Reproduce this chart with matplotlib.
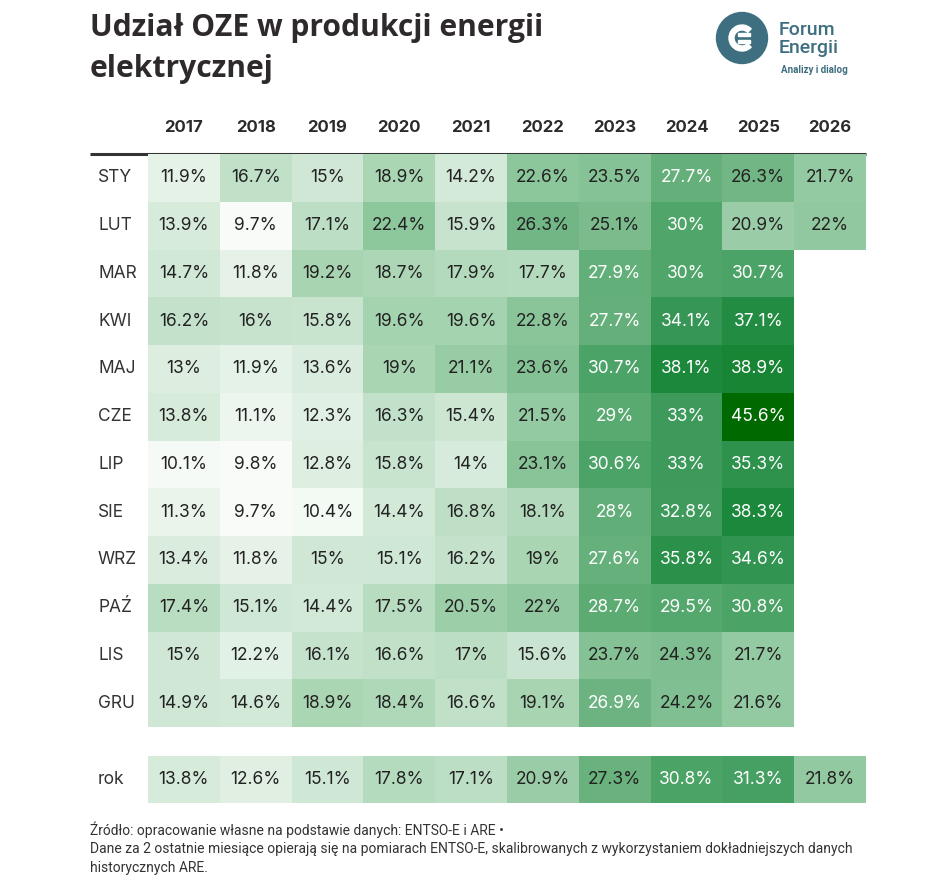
import numpy as np
import matplotlib
matplotlib.use("Agg")
import matplotlib.pyplot as plt
from matplotlib.colors import LinearSegmentedColormap, Normalize
from matplotlib.patches import Circle, Wedge, Rectangle

# data
years = ["2017", "2018", "2019", "2020", "2021", "2022", "2023", "2024", "2025", "2026"]
months = ["STY", "LUT", "MAR", "KWI", "MAJ", "CZE", "LIP", "SIE", "WRZ", "PAŹ", "LIS", "GRU"]
nan = np.nan
sty = [11.9, 16.7, 15.0, 18.9, 14.2, 22.6, 23.5, 27.7, 26.3, 21.7]
lut = [13.9, 9.7, 17.1, 22.4, 15.9, 26.3, 25.1, 30.0, 20.9, 22.0]
mar = [14.7, 11.8, 19.2, 18.7, 17.9, 17.7, 27.9, 30.0, 30.7, nan]
kwi = [16.2, 16.0, 15.8, 19.6, 19.6, 22.8, 27.7, 34.1, 37.1, nan]
maj = [13.0, 11.9, 13.6, 19.0, 21.1, 23.6, 30.7, 38.1, 38.9, nan]
cze = [13.8, 11.1, 12.3, 16.3, 15.4, 21.5, 29.0, 33.0, 45.6, nan]
lip = [10.1, 9.8, 12.8, 15.8, 14.0, 23.1, 30.6, 33.0, 35.3, nan]
sie = [11.3, 9.7, 10.4, 14.4, 16.8, 18.1, 28.0, 32.8, 38.3, nan]
wrz = [13.4, 11.8, 15.0, 15.1, 16.2, 19.0, 27.6, 35.8, 34.6, nan]
paz = [17.4, 15.1, 14.4, 17.5, 20.5, 22.0, 28.7, 29.5, 30.8, nan]
lis = [15.0, 12.2, 16.1, 16.6, 17.0, 15.6, 23.7, 24.3, 21.7, nan]
gru = [14.9, 14.6, 18.9, 18.4, 16.6, 19.1, 26.9, 24.2, 21.6, nan]
rok = [13.8, 12.6, 15.1, 17.8, 17.1, 20.9, 27.3, 30.8, 31.3, 21.8]

monthly = np.array([sty, lut, mar, kwi, maj, cze, lip, sie, wrz, paz, lis, gru])
annual = np.array([rok])

W, H = 947, 891
fig = plt.figure(figsize=(W / 100, H / 100), dpi=100)
fig.patch.set_facecolor("white")

vmin, vmax = 9.7, 45.6
stops = [(9.7, "#f8fbf8"), (12, "#e3f1e5"), (15, "#cfe7d5"), (19, "#a9d5b3"),
         (22.5, "#8cc69b"), (26.3, "#72b685"), (28, "#62ae78"), (30, "#50a66a"),
         (33, "#3d9a5b"), (38, "#1c893d"), (45.6, "#006900")]
cmap = LinearSegmentedColormap.from_list(
    "oze", [((v - vmin) / (vmax - vmin), c) for v, c in stops])
norm = Normalize(vmin, vmax)

cell_font = "Inter"
dark = "#222222"


def px_axes(left, top, right, bottom):
    return fig.add_axes([left / W, 1 - bottom / H, (right - left) / W, (bottom - top) / H])


def fmt(v):
    s = f"{v:.1f}"
    if s.endswith(".0"):
        s = s[:-2]
    return s + "%"


def draw_grid(ax, data, white_from):
    m = np.ma.masked_invalid(data)
    ax.pcolormesh(m, cmap=cmap, norm=norm, edgecolors="none")
    ax.set_xlim(0, data.shape[1])
    ax.set_ylim(data.shape[0], 0)
    ax.axis("off")
    for r in range(data.shape[0]):
        for c in range(data.shape[1]):
            v = data[r, c]
            if np.isnan(v):
                continue
            col = "white" if v >= white_from else dark
            ax.text(c + 0.5, r + 0.5, fmt(v), ha="center", va="center",
                    fontsize=12.5, color=col, family=cell_font)


gl, gr = 148, 866
ax_m = px_axes(gl, 154, gr, 727)
draw_grid(ax_m, monthly, 26.5)
ax_r = px_axes(gl, 756, gr, 803)
draw_grid(ax_r, annual, 28.0)

# overlay axes for text and decorations in pixel coordinates
ov = fig.add_axes([0, 0, 1, 1], zorder=-1)
ov.set_xlim(0, W)
ov.set_ylim(H, 0)
ov.axis("off")

col_w = (gr - gl) / len(years)
for i, y in enumerate(years):
    ov.text(gl + col_w * (i + 0.5), 128, y, ha="center", va="center",
            fontsize=12, fontweight="bold", color="#2b2b2b", family=cell_font)
ov.plot([90, gr], [154, 154], color="#333333", lw=2.2, solid_capstyle="butt")

row_h = (727 - 154) / len(months)
for i, m in enumerate(months):
    ov.text(98, 154 + row_h * (i + 0.5), m, ha="left", va="center",
            fontsize=12.5, color="#333333", family=cell_font)
ov.text(98, 779.5, "rok", ha="left", va="center", fontsize=12.5,
        color="#333333", family=cell_font)

# title
ov.text(90, 28, "Udział OZE w produkcji energii", ha="left", va="center",
        fontsize=21.6, fontweight="bold", color="#2e2a2b", family="Open Sans")
ov.text(90, 69, "elektrycznej", ha="left", va="center",
        fontsize=21.6, fontweight="bold", color="#2e2a2b", family="Open Sans")

# logo
teal = "#3e6f80"
ov.add_patch(Circle((742, 38), 25.5, color=teal))
ov.add_patch(Wedge((742, 38), 13, 45, 315, width=5, color="white"))
for dy in (-3.5, 3.5):
    ov.add_patch(Rectangle((738, 38 + dy - 1.5), 12, 3, color="white"))
ov.text(779, 30, "Forum", ha="left", va="center", fontsize=14, color=teal,
        fontweight="medium", family="Roboto")
ov.text(779, 48, "Energii", ha="left", va="center", fontsize=14, color=teal,
        fontweight="medium", family="Roboto")
ov.text(781, 70, "Analizy i dialog", ha="left", va="center", fontsize=7,
        color=teal, fontweight="bold", family="Roboto")

# footer
foot = ["Źródło: opracowanie własne na podstawie danych: ENTSO-E i ARE •",
        "Dane za 2 ostatnie miesiące opierają się na pomiarach ENTSO-E, skalibrowanych z wykorzystaniem dokładniejszych danych",
        "historycznych ARE."]
for i, line in enumerate(foot):
    ov.text(90, 830 + 19 * i, line, ha="left", va="center", fontsize=10,
            color="#333333", family="Roboto")

fig.savefig("out.png", dpi=100)
